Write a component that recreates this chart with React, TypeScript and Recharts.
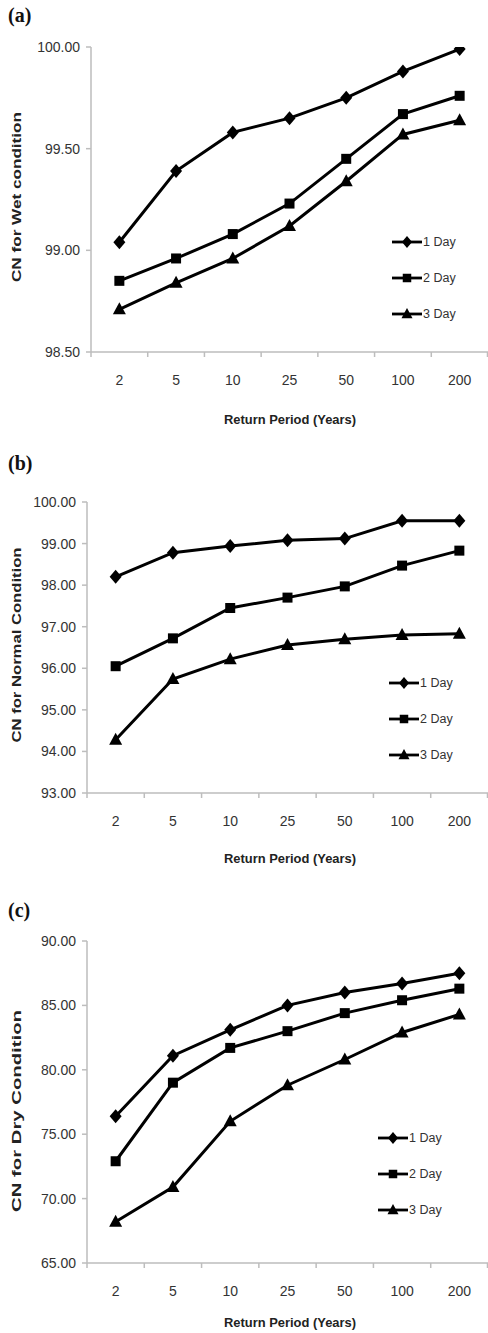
import React from "react";
import { LineChart, Line, XAxis, YAxis, Legend } from "recharts";

const periods = ["2", "5", "10", "25", "50", "100", "200"];
const seriesNames = ["1 Day", "2 Day", "3 Day"];

// (a) wet condition
const wet1Day = [99.04, 99.39, 99.58, 99.65, 99.75, 99.88, 99.99];
const wet2Day = [98.85, 98.96, 99.08, 99.23, 99.45, 99.67, 99.76];
const wet3Day = [98.71, 98.84, 98.96, 99.12, 99.34, 99.57, 99.64];
const wetTicks = [98.5, 99, 99.5, 100];

// (b) normal condition
const normal1Day = [98.2, 98.78, 98.94, 99.08, 99.12, 99.55, 99.55];
const normal2Day = [96.05, 96.72, 97.45, 97.7, 97.97, 98.47, 98.83];
const normal3Day = [94.28, 95.74, 96.22, 96.56, 96.7, 96.8, 96.83];
const normalTicks = [93, 94, 95, 96, 97, 98, 99, 100];

// (c) dry condition
const dry1Day = [76.4, 81.1, 83.1, 85.0, 86.0, 86.7, 87.5];
const dry2Day = [72.9, 79.0, 81.7, 83.0, 84.4, 85.4, 86.3];
const dry3Day = [68.2, 70.9, 76.0, 78.8, 80.8, 82.9, 84.3];
const dryTicks = [65, 70, 75, 80, 85, 90];

type Shape = "diamond" | "square" | "triangle";
const shapes: Shape[] = ["diamond", "square", "triangle"];

const AXIS = "#bdbdbd";
const TEXT = "#333";
const FONT = "'Liberation Sans', Arial, sans-serif";

function Marker({ cx, cy, shape, s = 1 }: { cx: number; cy: number; shape: Shape; s?: number }) {
  if (cx == null || cy == null) return null;
  if (shape === "diamond")
    return (
      <polygon
        points={`${cx},${cy - 7 * s} ${cx + 6 * s},${cy} ${cx},${cy + 7 * s} ${cx - 6 * s},${cy}`}
        fill="#000"
      />
    );
  if (shape === "square")
    return <rect x={cx - 5 * s} y={cy - 5 * s} width={10 * s} height={10 * s} fill="#000" />;
  return (
    <polygon
      points={`${cx},${cy - 7 * s} ${cx + 6.5 * s},${cy + 5 * s} ${cx - 6.5 * s},${cy + 5 * s}`}
      fill="#000"
    />
  );
}

function LegendBox({ payload }: any) {
  return (
    <div style={{ fontFamily: FONT, fontSize: 12.5, color: TEXT }}>
      {(payload || []).map((p: any, i: number) => (
        <div key={p.value} style={{ display: "flex", alignItems: "center", height: 36 }}>
          <svg width={30} height={14}>
            <line x1={0} y1={7} x2={30} y2={7} stroke="#000" strokeWidth={2.8} />
            <Marker cx={15} cy={7} shape={shapes[i]} s={0.85} />
          </svg>
          <span style={{ marginLeft: 1 }}>{p.value}</span>
        </div>
      ))}
    </div>
  );
}

type PanelProps = {
  letter: string;
  yTitle: string;
  yTitleLen: number;
  yTitleY: number;
  letterY: number;
  xTitleY: number;
  values: number[][];
  domain: [number, number];
  ticks: number[];
  top: number;
  height: number;
  marginTop: number;
  yAxisWidth: number;
  xAxisHeight: number;
  legendLeft: number;
  legendTop: number;
};

function Panel(p: PanelProps) {
  const data = periods.map((period, i) => ({
    period,
    d1: p.values[0][i],
    d2: p.values[1][i],
    d3: p.values[2][i],
  }));
  const plotWidth = 488 - p.yAxisWidth;
  const half = plotWidth / 14;

  const XTick = (props: any) => {
    const { x, y, payload, index } = props;
    return (
      <g>
        <line x1={x - half} y1={y} x2={x - half} y2={y + 5} stroke={AXIS} strokeWidth={1.5} />
        {index === periods.length - 1 && (
          <line x1={x + half - 0.5} y1={y} x2={x + half - 0.5} y2={y + 5} stroke={AXIS} strokeWidth={1.5} />
        )}
        <text x={x} y={y + 33} textAnchor="middle" fill={TEXT} fontSize={14} fontFamily={FONT}>
          {payload.value}
        </text>
      </g>
    );
  };

  return (
    <div style={{ position: "absolute", left: 0, top: p.top, width: 488, height: p.height }}>
      <LineChart
        width={488}
        height={p.height}
        data={data}
        margin={{ top: p.marginTop, right: 0, bottom: 0, left: 0 }}
      >
        <XAxis
          dataKey="period"
          height={p.xAxisHeight}
          padding={{ left: half, right: half }}
          axisLine={{ stroke: AXIS, strokeWidth: 1.5 }}
          tickLine={false}
          tickSize={0}
          tickMargin={0}
          interval={0}
          tick={<XTick />}
        />
        <YAxis
          width={p.yAxisWidth}
          domain={p.domain}
          ticks={p.ticks}
          allowDataOverflow
          tickFormatter={(v: number) => v.toFixed(2)}
          axisLine={{ stroke: AXIS, strokeWidth: 1.5 }}
          tickLine={{ stroke: AXIS, strokeWidth: 1.5 }}
          tickSize={5}
          tickMargin={6}
          tick={{ fill: TEXT, fontSize: 14, fontFamily: FONT }}
        />
        <Legend
          layout="vertical"
          align="center"
          verticalAlign="middle"
          content={<LegendBox />}
          wrapperStyle={{ position: "absolute", left: p.legendLeft, top: p.legendTop, width: 100, height: 110 }}
        />
        {["d1", "d2", "d3"].map((k, i) => (
          <Line
            key={k}
            type="linear"
            dataKey={k}
            name={seriesNames[i]}
            stroke="#000"
            strokeWidth={3}
            isAnimationActive={false}
            dot={(dp: any) => (
              <Marker key={`${k}-${dp.index}`} cx={dp.cx} cy={dp.cy} shape={shapes[i]} />
            )}
            activeDot={false}
          />
        ))}
      </LineChart>
      <svg
        width={488}
        height={p.height}
        style={{ position: "absolute", left: 0, top: 0, pointerEvents: "none" }}
      >
        <text
          x={8}
          y={p.letterY}
          fontFamily="'Liberation Serif', 'Times New Roman', serif"
          fontWeight="bold"
          fontSize={20}
          fill="#111"
        >
          {p.letter}
        </text>
        <text
          x={0}
          y={0}
          transform={`translate(17, ${p.yTitleY}) rotate(-90)`}
          textAnchor="middle"
          dominantBaseline="central"
          fontFamily={FONT}
          fontWeight="bold"
          fontSize={12}
          fill="#222"
          textLength={p.yTitleLen}
          lengthAdjust="spacingAndGlyphs"
        >
          {p.yTitle}
        </text>
        <text
          x={290}
          y={p.xTitleY}
          textAnchor="middle"
          fontFamily={FONT}
          fontWeight="bold"
          fontSize={13}
          fill="#222"
          textLength={132}
          lengthAdjust="spacingAndGlyphs"
        >
          Return Period (Years)
        </text>
      </svg>
    </div>
  );
}

export default function App() {
  return (
    <div style={{ position: "relative", width: 488, height: 1333, background: "#fff", overflow: "hidden" }}>
      <style>{`body{margin:0;}`}</style>
      <Panel
        letter="(a)"
        yTitle="CN for  Wet condition"
        yTitleLen={170}
        yTitleY={197}
        letterY={22}
        xTitleY={424}
        values={[wet1Day, wet2Day, wet3Day]}
        domain={[98.5, 100]}
        ticks={wetTicks}
        top={0}
        height={432}
        marginTop={47}
        yAxisWidth={91}
        xAxisHeight={80}
        legendLeft={392}
        legendTop={224}
      />
      <Panel
        letter="(b)"
        yTitle="CN for  Normal Condition"
        yTitleLen={195}
        yTitleY={205}
        letterY={30}
        xTitleY={423}
        values={[normal1Day, normal2Day, normal3Day]}
        domain={[93, 100]}
        ticks={normalTicks}
        top={440}
        height={433}
        marginTop={62}
        yAxisWidth={87}
        xAxisHeight={80}
        legendLeft={389}
        legendTop={225}
      />
      <Panel
        letter="(c)"
        yTitle="CN for  Dry Condition"
        yTitleLen={202}
        yTitleY={231}
        letterY={37}
        xTitleY={447}
        values={[dry1Day, dry2Day, dry3Day]}
        domain={[65, 90]}
        ticks={dryTicks}
        top={880}
        height={453}
        marginTop={61}
        yAxisWidth={87}
        xAxisHeight={70}
        legendLeft={378}
        legendTop={240}
      />
    </div>
  );
}
